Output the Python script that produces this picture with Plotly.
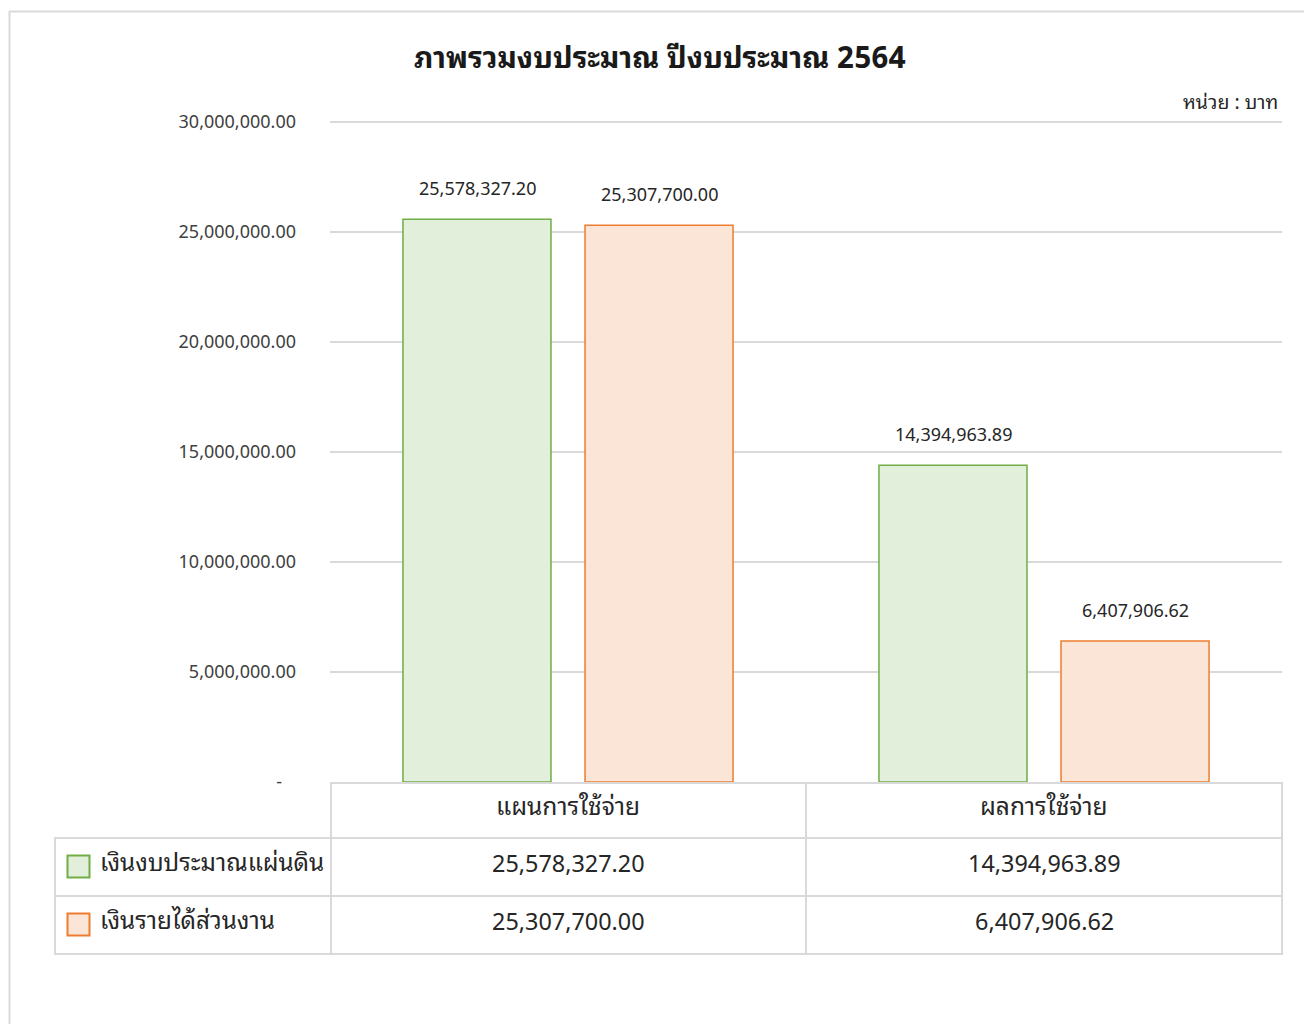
import plotly.graph_objects as go

# ---- data ----
categories = ["แผนการใช้จ่าย", "ผลการใช้จ่าย"]
series_names = ["เงินงบประมาณแผ่นดิน", "เงินรายได้ส่วนงาน"]
gov_budget = [25578327.20, 14394963.89]
income = [25307700.00, 6407906.62]
y_tick_vals = [0, 5000000, 10000000, 15000000, 20000000, 25000000, 30000000]
y_tick_text = ["-   ", "5,000,000.00", "10,000,000.00", "15,000,000.00",
               "20,000,000.00", "25,000,000.00", "30,000,000.00"]
title_text = "ภาพรวมงบประมาณ ปีงบประมาณ 2564"
unit_text = "หน่วย : บาท"

W, H = 1312, 1024
OFF = 8  # page body margin
FONT = "Noto Sans Thai Looped, Leelawadee UI, Tahoma, Noto Sans, sans-serif"
GRID = "#d9d9d9"
fills = ["#e2efda", "#fbe5d6"]
lines = ["#70ad47", "#ed7d31"]


def px(x):
    return (x - OFF) / W


def py(y):
    return 1 - (y - OFF) / H


fig = go.Figure()
for name, vals, fc, lc in zip(series_names, [gov_budget, income], fills, lines):
    fig.add_trace(go.Bar(
        x=categories, y=vals, name=name,
        marker=dict(color=fc, line=dict(color=lc, width=1.5)),
        showlegend=False, hoverinfo="y",
    ))

annotations = []
for i, vals in enumerate([gov_budget, income]):
    shift = -91 if i == 0 else 91
    for c, v in zip(categories, vals):
        annotations.append(dict(
            x=c, y=v, xref="x", yref="y", text=f"{v:,.2f}",
            showarrow=False, xshift=shift, yshift=32,
            font=dict(size=18, color="#262626", family=FONT),
            xanchor="center", yanchor="middle",
        ))

annotations.append(dict(x=px(660), y=py(54), xref="paper", yref="paper",
                        text=f"<b>{title_text}</b>", showarrow=False,
                        font=dict(size=29.5, color="#1a1a1a", family=FONT),
                        xanchor="center", yanchor="middle"))
annotations.append(dict(x=px(1280), y=py(100), xref="paper", yref="paper",
                        text=unit_text, showarrow=False,
                        font=dict(size=19.5, color="#262626", family=FONT),
                        xanchor="right", yanchor="middle"))

col_left = [330, 806]
col_w = 476
row_y = [838, 896, 954]
header_cy = 804
row_cy = [861, 919]
legend_cy = [860, 918]
key_cy = [866.5, 924.5]
for ci, c in enumerate(categories):
    annotations.append(dict(x=px(col_left[ci] + col_w / 2), y=py(header_cy),
                            xref="paper", yref="paper", text=c, showarrow=False,
                            font=dict(size=24.5, color="#262626", family=FONT),
                            xanchor="center", yanchor="middle"))
for ri, (name, vals) in enumerate(zip(series_names, [gov_budget, income])):
    annotations.append(dict(x=px(98), y=py(legend_cy[ri]), xref="paper", yref="paper",
                            text=name, showarrow=False,
                            font=dict(size=24.3, color="#262626", family=FONT),
                            xanchor="left", yanchor="middle"))
    for ci, v in enumerate(vals):
        annotations.append(dict(x=px(col_left[ci] + col_w / 2), y=py(row_cy[ri]),
                                xref="paper", yref="paper", text=f"{v:,.2f}",
                                showarrow=False,
                                font=dict(size=23.4, color="#262626", family=FONT),
                                xanchor="center", yanchor="middle"))

shapes = []


def hline(x0, x1, y, color=GRID):
    shapes.append(dict(type="line", xref="paper", yref="paper",
                       x0=px(x0), x1=px(x1), y0=py(y), y1=py(y),
                       line=dict(color=color, width=2)))


def vline(x, y0, y1, color=GRID):
    shapes.append(dict(type="line", xref="paper", yref="paper",
                       x0=px(x), x1=px(x), y0=py(y0), y1=py(y1),
                       line=dict(color=color, width=2)))


hline(330, 1283, 783)
for y in row_y:
    hline(54, 1283, y)
vline(55, 838, 955)
vline(331, 783, 955)
vline(806, 783, 955)
vline(1282, 783, 955)

for ri in range(2):
    cy = key_cy[ri]
    shapes.append(dict(type="rect", xref="paper", yref="paper",
                       x0=px(67.5), x1=px(89.5), y0=py(cy - 11), y1=py(cy + 11),
                       fillcolor=fills[ri], line=dict(color=lines[ri], width=2)))

# outer chart border (top + left visible)
hline(9, 1330, 11.5)
vline(9.5, 11, 1040)

fig.update_layout(
    template="none",
    width=W, height=H, autosize=False,
    margin=dict(l=0, r=0, t=0, b=0, pad=0, autoexpand=False),
    paper_bgcolor="white", plot_bgcolor="white",
    barmode="group", bargap=0.235, bargroupgap=0.187,
    font=dict(family=FONT, color="#404040"),
    xaxis=dict(domain=[px(330), px(1282)], showticklabels=False, showgrid=False,
               zeroline=False, showline=False, ticks="", automargin=False),
    yaxis=dict(domain=[py(782), py(121)], range=[0, 30050000],
               tickvals=y_tick_vals, ticktext=y_tick_text,
               tickfont=dict(size=18, color="#404040", family=FONT),
               showgrid=True, gridcolor=GRID, gridwidth=1.5,
               zeroline=False, showline=False, ticks="", ticklabelstandoff=33,
               automargin=False),
    annotations=annotations, shapes=shapes,
)

fig.write_html("out.html")
